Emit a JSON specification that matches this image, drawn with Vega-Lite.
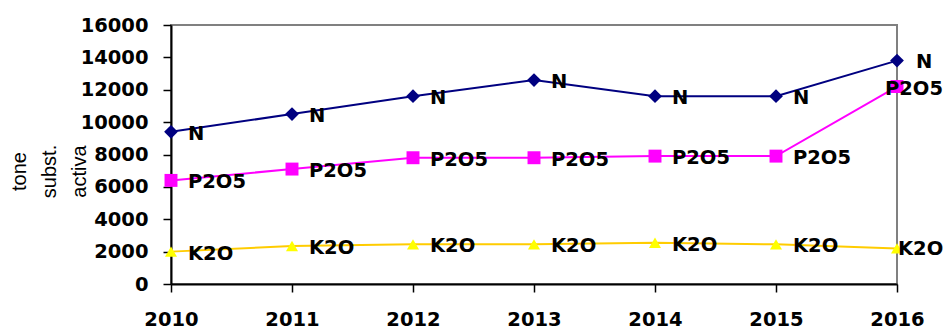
{
  "$schema": "https://vega.github.io/schema/vega-lite/v6.json",
  "autosize": "none",
  "width": 726,
  "height": 259,
  "padding": {"left": 171, "top": 25, "right": 47, "bottom": 47},
  "background": "white",
  "config": {
    "view": {"stroke": "#808080", "strokeWidth": 2},
    "axis": {
      "grid": false,
      "domainColor": "black",
      "domainWidth": 2,
      "tickColor": "black",
      "tickWidth": 1.5,
      "tickSize": 8,
      "labelFont": "DejaVu Sans",
      "labelFontWeight": "bold",
      "labelFontSize": 19.5,
      "labelColor": "black"
    }
  },
  "data": {
    "values": [
      {"year": 2010, "series": "N", "value": 9400},
      {"year": 2011, "series": "N", "value": 10500},
      {"year": 2012, "series": "N", "value": 11600},
      {"year": 2013, "series": "N", "value": 12600},
      {"year": 2014, "series": "N", "value": 11600},
      {"year": 2015, "series": "N", "value": 11600},
      {"year": 2016, "series": "N", "value": 13800},
      {"year": 2010, "series": "P2O5", "value": 6400},
      {"year": 2011, "series": "P2O5", "value": 7100},
      {"year": 2012, "series": "P2O5", "value": 7800},
      {"year": 2013, "series": "P2O5", "value": 7800},
      {"year": 2014, "series": "P2O5", "value": 7900},
      {"year": 2015, "series": "P2O5", "value": 7900},
      {"year": 2016, "series": "P2O5", "value": 12200},
      {"year": 2010, "series": "K2O", "value": 2000},
      {"year": 2011, "series": "K2O", "value": 2350},
      {"year": 2012, "series": "K2O", "value": 2450},
      {"year": 2013, "series": "K2O", "value": 2450},
      {"year": 2014, "series": "K2O", "value": 2550},
      {"year": 2015, "series": "K2O", "value": 2450},
      {"year": 2016, "series": "K2O", "value": 2200}
    ]
  },
  "encoding": {
    "x": {
      "field": "year",
      "type": "quantitative",
      "scale": {"domain": [2010, 2016], "nice": false, "zero": false},
      "axis": {
        "values": [2010, 2011, 2012, 2013, 2014, 2015, 2016],
        "format": "d",
        "title": null,
        "labelPadding": 18,
        "labelFlush": false
      }
    },
    "y": {
      "field": "value",
      "type": "quantitative",
      "scale": {"domain": [0, 16000], "nice": false},
      "axis": {
        "values": [0, 2000, 4000, 6000, 8000, 10000, 12000, 14000, 16000],
        "format": "d",
        "labelPadding": 15,
        "title": ["tone", "subst.", "activa"],
        "titleFont": "Liberation Sans",
        "titleFontWeight": "normal",
        "titleFontSize": 20,
        "titleLineHeight": 30,
        "titleColor": "black",
        "titleAngle": -90,
        "titleAlign": "center",
        "titleBaseline": "middle",
        "titleX": -152,
        "titleY": 146
      }
    }
  },
  "layer": [
    {
      "mark": {"type": "line", "strokeWidth": 2},
      "encoding": {
        "stroke": {
          "field": "series",
          "type": "nominal",
          "scale": {"domain": ["N", "P2O5", "K2O"], "range": ["#000080", "#FF00FF", "#FFCC00"]},
          "legend": null
        }
      }
    },
    {
      "mark": {"type": "point", "filled": true, "opacity": 1, "strokeWidth": 0},
      "encoding": {
        "fill": {
          "field": "series",
          "type": "nominal",
          "scale": {"domain": ["N", "P2O5", "K2O"], "range": ["#000080", "#FF00FF", "#FFFF00"]},
          "legend": null
        },
        "shape": {
          "field": "series",
          "type": "nominal",
          "scale": {"domain": ["N", "P2O5", "K2O"], "range": ["diamond", "square", "triangle-up"]},
          "legend": null
        },
        "size": {
          "field": "series",
          "type": "nominal",
          "scale": {"domain": ["N", "P2O5", "K2O"], "range": [190, 145, 190]},
          "legend": null
        }
      }
    },
    {
      "transform": [{"filter": "datum.year < 2016"}],
      "mark": {"type": "text", "align": "left", "baseline": "middle", "dx": 17, "dy": 2, "font": "DejaVu Sans", "fontWeight": "bold", "fontSize": 19.5, "color": "black"},
      "encoding": {"text": {"field": "series", "type": "nominal"}}
    },
    {
      "transform": [{"filter": "datum.year == 2016 && datum.series == 'N'"}],
      "mark": {"type": "text", "align": "left", "baseline": "middle", "dx": 19, "dy": 1, "font": "DejaVu Sans", "fontWeight": "bold", "fontSize": 19.5, "color": "black"},
      "encoding": {"text": {"field": "series", "type": "nominal"}}
    },
    {
      "transform": [{"filter": "datum.year == 2016 && datum.series == 'P2O5'"}],
      "mark": {"type": "text", "align": "center", "baseline": "middle", "dx": 17, "dy": 2, "font": "DejaVu Sans", "fontWeight": "bold", "fontSize": 19.5, "color": "black"},
      "encoding": {"text": {"field": "series", "type": "nominal"}}
    },
    {
      "transform": [{"filter": "datum.year == 2016 && datum.series == 'K2O'"}],
      "mark": {"type": "text", "align": "left", "baseline": "middle", "dx": 1, "dy": 1, "font": "DejaVu Sans", "fontWeight": "bold", "fontSize": 19.5, "color": "black"},
      "encoding": {"text": {"field": "series", "type": "nominal"}}
    }
  ]
}
